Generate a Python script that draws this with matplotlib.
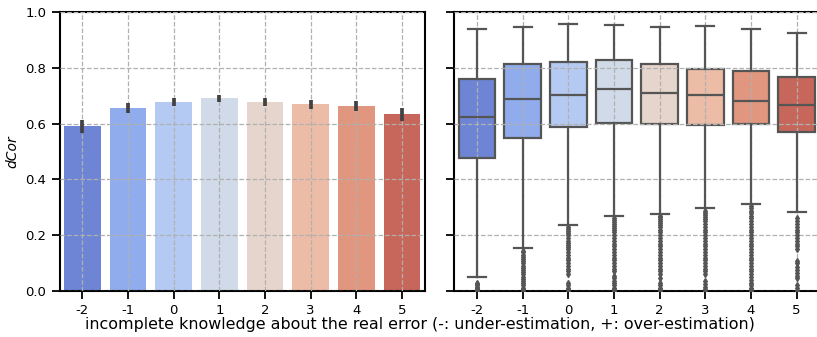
import matplotlib
matplotlib.use("Agg")
import matplotlib.pyplot as plt
import seaborn as sns
import numpy as np

# categories (x axis)
levels = ["-2", "-1", "0", "1", "2", "3", "4", "5"]

# left panel: mean dCor with CI half-width
bar_means = [0.591, 0.656, 0.677, 0.691, 0.677, 0.670, 0.663, 0.634]
bar_err = [0.023, 0.017, 0.014, 0.013, 0.013, 0.016, 0.017, 0.023]

# right panel: box statistics
box_whislo = [0.051, 0.155, 0.237, 0.268, 0.276, 0.297, 0.312, 0.283]
box_q1 = [0.476, 0.548, 0.587, 0.602, 0.600, 0.596, 0.597, 0.570]
box_med = [0.625, 0.688, 0.704, 0.723, 0.710, 0.701, 0.682, 0.668]
box_q3 = [0.760, 0.812, 0.822, 0.827, 0.814, 0.797, 0.787, 0.767]
box_whishi = [0.938, 0.946, 0.957, 0.953, 0.947, 0.950, 0.939, 0.925]
box_fliers = [
    [0.0, 0.004, 0.008, 0.012, 0.016, 0.02, 0.025, 0.03],
    [0.0, 0.006, 0.012, 0.02, 0.028, 0.035, 0.042, 0.05, 0.06, 0.068, 0.075, 0.083,
     0.09, 0.1, 0.108, 0.115, 0.122, 0.13, 0.14, 0.145],
    [0.0, 0.006, 0.012, 0.02, 0.03, 0.06, 0.07, 0.08, 0.09, 0.1, 0.11, 0.12, 0.13,
     0.14, 0.15, 0.158, 0.165, 0.172, 0.18, 0.19, 0.2, 0.208, 0.215, 0.222, 0.23],
    [0.0, 0.006, 0.012, 0.02, 0.028, 0.035, 0.045, 0.055, 0.07, 0.08, 0.09, 0.1, 0.11,
     0.12, 0.13, 0.14, 0.15, 0.16, 0.17, 0.18, 0.19, 0.2, 0.21, 0.218, 0.225, 0.232,
     0.24, 0.248, 0.255, 0.262],
    [0.0, 0.006, 0.012, 0.02, 0.03, 0.045, 0.06, 0.07, 0.08, 0.09, 0.1, 0.11, 0.12,
     0.13, 0.14, 0.15, 0.16, 0.17, 0.18, 0.19, 0.2, 0.21, 0.22, 0.228, 0.235, 0.242,
     0.25, 0.258, 0.265, 0.27],
    [0.0, 0.008, 0.015, 0.025, 0.035, 0.06, 0.07, 0.08, 0.09, 0.1, 0.11, 0.12, 0.13,
     0.14, 0.15, 0.16, 0.17, 0.18, 0.19, 0.2, 0.21, 0.22, 0.23, 0.24, 0.25, 0.258,
     0.265, 0.272, 0.28, 0.288],
    [0.0, 0.006, 0.012, 0.02, 0.03, 0.04, 0.05, 0.06, 0.07, 0.08, 0.09, 0.1, 0.11,
     0.12, 0.13, 0.14, 0.15, 0.16, 0.17, 0.18, 0.19, 0.2, 0.21, 0.22, 0.23, 0.24,
     0.25, 0.26, 0.27, 0.28, 0.288, 0.296, 0.305],
    [0.0, 0.01, 0.02, 0.045, 0.055, 0.065, 0.075, 0.085, 0.1, 0.108, 0.15, 0.16,
     0.17, 0.18, 0.19, 0.2, 0.21, 0.22, 0.23, 0.24, 0.25, 0.26],
]

colors = sns.color_palette("coolwarm", len(levels), desat=0.75)
line_gray = "#555555"

fig = plt.figure(figsize=(8.17, 3.37), dpi=100)
ax1 = fig.add_axes([59.5 / 817, 1 - 291 / 337, (424.8 - 59.5) / 817, (291 - 12) / 337])
ax2 = fig.add_axes([454.2 / 817, 1 - 291 / 337, (819.5 - 454.2) / 817, (291 - 12) / 337])

x = np.arange(len(levels))
ax1.bar(x, bar_means, width=0.8, color=colors, zorder=1)
ax1.errorbar(x, bar_means, yerr=bar_err, fmt="none", ecolor="#424242", elinewidth=2.7, zorder=3)

stats = []
for i in range(len(levels)):
    stats.append(dict(whislo=box_whislo[i], q1=box_q1[i], med=box_med[i], q3=box_q3[i],
                      whishi=box_whishi[i], fliers=box_fliers[i]))
bp = ax2.bxp(stats, positions=x, widths=0.8, patch_artist=True,
             boxprops=dict(edgecolor=line_gray, linewidth=1.6, zorder=2),
             medianprops=dict(color=line_gray, linewidth=1.6, zorder=3),
             whiskerprops=dict(color=line_gray, linewidth=1.6, zorder=3),
             capprops=dict(color=line_gray, linewidth=1.6, zorder=3),
             flierprops=dict(marker="d", markersize=3, markerfacecolor=line_gray,
                             markeredgecolor=line_gray, linestyle="none", zorder=3))
for patch, c in zip(bp["boxes"], colors):
    patch.set_facecolor(c)

for ax in (ax1, ax2):
    ax.set_xlim(-0.5, len(levels) - 0.5)
    ax.set_ylim(0, 1.0)
    ax.set_xticks(x)
    ax.set_xticklabels(levels)
    ax.set_yticks([0, 0.2, 0.4, 0.6, 0.8, 1.0])
    ax.grid(True, linestyle="--", color="#b0b0b0", linewidth=0.9)
    ax.set_axisbelow(False)
    ax.tick_params(direction="out", length=6, width=1.3, labelsize=9.5)
    for s in ax.spines.values():
        s.set_linewidth(1.5)

ax2.tick_params(labelleft=False)
ax1.set_ylabel("dCor", fontstyle="italic", fontsize=10)
fig.text(420 / 817, 1 - 325 / 337, "incomplete knowledge about the real error (-: under-estimation, +: over-estimation)",
         ha="center", va="center", fontsize=11.4)

fig.savefig("out.png", dpi=100)
